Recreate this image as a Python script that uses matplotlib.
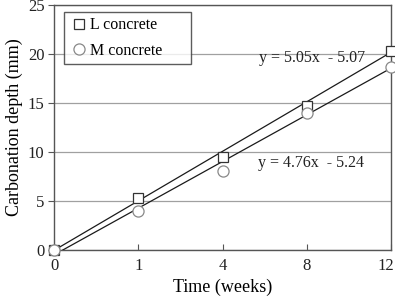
"""Carbonation depth vs time for L and M concrete."""

import numpy as np
from matplotlib import pyplot as plt
from matplotlib import transforms

plt.rcParams["font.family"] = ["Liberation Serif", "DejaVu Serif"]

# Data (x is categorical: weeks)
weeks = ["0", "1", "4", "8", "12"]
depth_L = [0.0, 5.3, 9.5, 14.7, 20.3]
depth_M = [0.0, 4.0, 8.1, 14.0, 18.7]

# Linear trend coefficients (x = category index + 1)
trend_L = (5.05, -5.07)
trend_M = (4.76, -5.24)

fig = plt.figure(figsize=(3.95, 2.96), dpi=100)
ax = fig.add_axes([0.137, 0.155, 0.853, 0.828])

pos = np.arange(len(weeks))
x_trend = np.array([pos[0], pos[-1]])
for slope, icpt in (trend_L, trend_M):
    ax.plot(x_trend, slope * (x_trend + 1) + icpt, color="#1a1a1a", lw=0.9, zorder=3)

ax.plot(pos, depth_L, ls="none", marker="s", ms=7, mfc="white", mec="#333333",
        mew=0.9, label="L concrete      ", clip_on=False, zorder=4)
ax.plot(pos, depth_M, ls="none", marker="o", ms=8, mfc="white", mec="#888888",
        mew=0.9, label="M concrete      ", clip_on=False, zorder=4)

ax.set_xlim(0, 4)
ax.set_ylim(0, 25)
ax.set_xticks(pos)
ax.set_xticklabels(weeks)
ax.set_yticks(np.arange(0, 26, 5))
ax.yaxis.grid(True, color="#a0a0a0", lw=0.9)
ax.set_axisbelow(True)
for sp in ax.spines.values():
    sp.set_color("#555555")
    sp.set_linewidth(1.0)
ax.tick_params(labelsize=12, colors="#222222", width=0.8)
ax.tick_params(axis="x", direction="in", length=4, color="#555555", pad=6)
ax.tick_params(axis="y", direction="out", length=4, color="#555555", pad=3)

# keep the last x label inside the picture
last = ax.get_xticklabels()[-1]
last.set_transform(last.get_transform() + transforms.ScaledTranslation(-4 / 72, 0, fig.dpi_scale_trans))

ax.set_xlabel("Time (weeks)", fontsize=13, labelpad=3)
ax.set_ylabel("Carbonation depth (mm)", fontsize=13, labelpad=3)

ax.text(3.06, 19.6, "y = 5.05x  - 5.07", fontsize=11.5, ha="center", va="center",
        color="#222222")
ax.text(3.05, 8.9, "y = 4.76x  - 5.24", fontsize=11.5, ha="center", va="center",
        color="#222222")

leg = ax.legend(loc="upper left", bbox_to_anchor=(0.028, 0.97), fontsize=11.5,
                frameon=True, fancybox=False, edgecolor="#333333",
                handletextpad=0.05, handlelength=1.3, borderpad=0.3,
                labelspacing=0.6, borderaxespad=0)
leg.get_frame().set_linewidth(1.0)

fig.savefig("out.png", dpi=100)
